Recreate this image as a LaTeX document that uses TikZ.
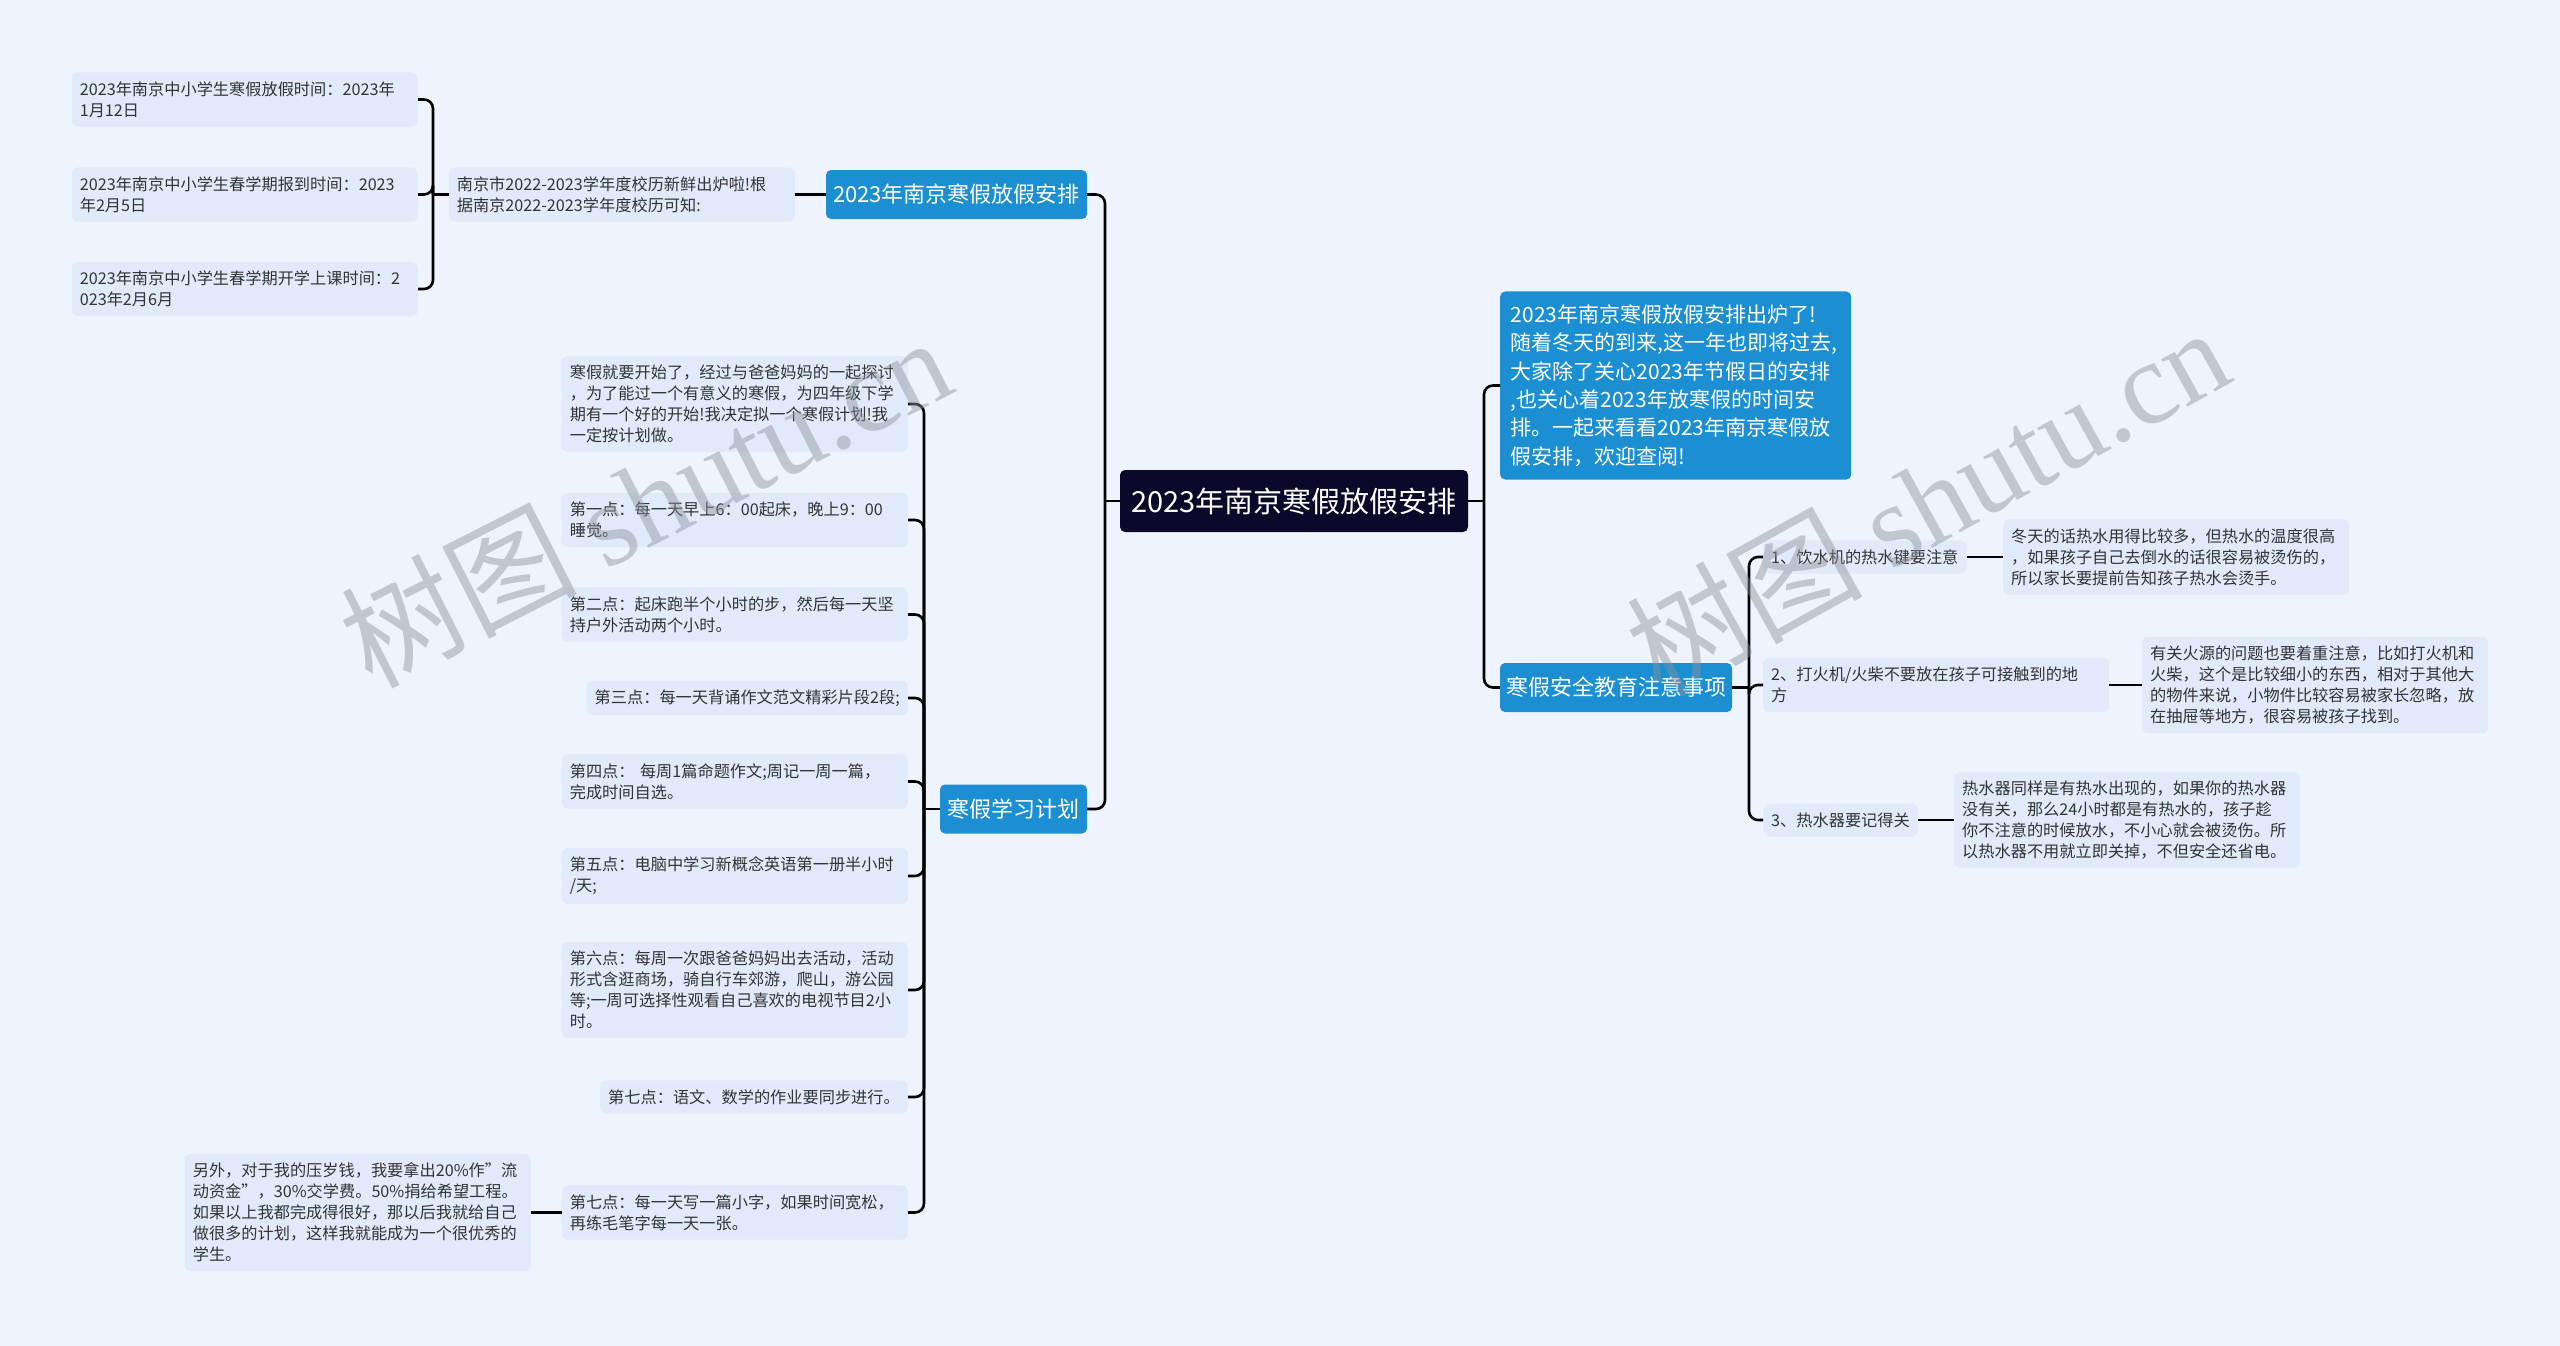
\documentclass[tikz,border=0pt]{standalone}
\usepackage{fontspec}
\setmainfont{Noto Sans CJK SC}
\newfontfamily\wmserif{Liberation Serif}
\definecolor{bgcol}{HTML}{EEF3FD}
\definecolor{leafcol}{HTML}{E1EAFB}
\definecolor{bluecol}{HTML}{1B8FD2}
\definecolor{rootcol}{HTML}{0B0829}
\definecolor{txtcol}{HTML}{333333}
\definecolor{wmcol}{HTML}{8E9099}

\begin{document}
\begin{tikzpicture}[x=1pt,y=-1pt,
	root/.style={fill=rootcol,text=white,rounded corners=5pt,font=\fontsize{29pt}{35pt}\selectfont,minimum width=348pt,minimum height=62pt,inner sep=0pt},
	branch/.style={fill=bluecol,text=white,rounded corners=5pt,font=\fontsize{22pt}{26pt}\selectfont,minimum height=49pt,inner sep=0pt},
	note/.style={fill=leafcol,text=txtcol,rounded corners=6pt,font=\fontsize{16.2pt}{21pt}\selectfont,inner xsep=8pt,inner ysep=9pt},
	para/.style={note,text width=330pt,align=left},
	link/.style={line width=2.6pt,draw=black,rounded corners=9pt},
	wm/.style={text=wmcol,opacity=0.45,font=\fontsize{118pt}{118pt}\selectfont}]
	\fill[bgcol] (0,0) rectangle (2560,1346);

	\node[root] (center) at (1294,501) {2023年南京寒假放假安排};
	\node[branch,minimum width=261pt] (plan) at (956.5,194.5) {2023年南京寒假放假安排};
	\node[branch,minimum width=147pt] (study) at (1013.5,809) {寒假学习计划};
	\node[branch,minimum width=232pt] (safety) at (1616,687.5) {寒假安全教育注意事项};
	\node[fill=bluecol,text=white,rounded corners=5pt,font=\fontsize{21pt}{28.4pt}\selectfont,text width=330pt,align=left,inner xsep=10.5pt,inner ysep=13pt,anchor=west] (intro) at (1500,385.5)
		{2023年南京寒假放假安排出炉了!\\随着冬天的到来,这一年也即将过去,\\大家除了关心2023年节假日的安排\\,也关心着2023年放寒假的时间安\\排。一起来看看2023年南京寒假放\\假安排，欢迎查阅!};

	\begin{scope}[every node/.style={anchor=east}]
	\node[para] (calendar) at (795,194.5) {南京市2022-2023学年度校历新鲜出炉啦!根\\据南京2022-2023学年度校历可知:};
	\node[para] (g1) at (418,99.5) {2023年南京中小学生寒假放假时间：2023年\\1月12日};
	\node[para] (g2) at (418,194.5) {2023年南京中小学生春学期报到时间：2023\\年2月5日};
	\node[para] (g3) at (418,289) {2023年南京中小学生春学期开学上课时间：2\\023年2月6月};
	\node[para] (s0) at (908,404) {寒假就要开始了，经过与爸爸妈妈的一起探讨\\，为了能过一个有意义的寒假，为四年级下学\\期有一个好的开始!我决定拟一个寒假计划!我\\一定按计划做。};
	\node[para] (s1) at (908,520) {第一点：每一天早上6：00起床，晚上9：00\\睡觉。};
	\node[para] (s2) at (908,614.5) {第二点：起床跑半个小时的步，然后每一天坚\\持户外活动两个小时。};
	\node[note] (s3) at (908,698) {第三点：每一天背诵作文范文精彩片段2段;};
	\node[para] (s4) at (908,781.5) {第四点： 每周1篇命题作文;周记一周一篇，\\完成时间自选。};
	\node[para] (s5) at (908,876) {第五点：电脑中学习新概念英语第一册半小时\\/天;};
	\node[para] (s6) at (908,990) {第六点：每周一次跟爸爸妈妈出去活动，活动\\形式含逛商场，骑自行车郊游，爬山，游公园\\等;一周可选择性观看自己喜欢的电视节目2小\\时。};
	\node[note] (s7) at (908,1097) {第七点：语文、数学的作业要同步进行。};
	\node[para] (s8) at (908,1212.5) {第七点：每一天写一篇小字，如果时间宽松，\\再练毛笔字每一天一张。};
	\node[para] (extra) at (531,1212.5) {另外，对于我的压岁钱，我要拿出20\%作"流\\动资金"，30\%交学费。50\%捐给希望工程。\\如果以上我都完成得很好，那以后我就给自己\\做很多的计划，这样我就能成为一个很优秀的\\学生。};
	\end{scope}

	\begin{scope}[every node/.style={anchor=west}]
	\node[note] (r1) at (1763,557) {1、饮水机的热水键要注意};
	\node[para] (r1c) at (2003,557) {冬天的话热水用得比较多，但热水的温度很高\\，如果孩子自己去倒水的话很容易被烫伤的，\\所以家长要提前告知孩子热水会烫手。};
	\node[para] (r2) at (1763,685) {2、打火机/火柴不要放在孩子可接触到的地\\方};
	\node[para] (r2c) at (2142,685) {有关火源的问题也要着重注意，比如打火机和\\火柴，这个是比较细小的东西，相对于其他大\\的物件来说，小物件比较容易被家长忽略，放\\在抽屉等地方，很容易被孩子找到。};
	\node[note] (r3) at (1763,820) {3、热水器要记得关};
	\node[para] (r3c) at (1954,820) {热水器同样是有热水出现的，如果你的热水器\\没有关，那么24小时都是有热水的，孩子趁\\你不注意的时候放水，不小心就会被烫伤。所\\以热水器不用就立即关掉，不但安全还省电。};
	\end{scope}

	\coordinate (cl) at (1105,501);
	\coordinate (cr) at (1484,501);
	\coordinate (pl) at (433,194.5);
	\coordinate (sl) at (924,809);
	\coordinate (tr) at (1749,687.5);

	\draw[link] (center.west) -- (cl);
	\draw[link] (cl) |- (plan.east);
	\draw[link] (cl) |- (study.east);
	\draw[link] (center.east) -- (cr);
	\draw[link] (cr) |- (intro.west);
	\draw[link] (cr) |- (safety.west);
	\draw[link] (plan.west) -- (calendar.east);
	\draw[link] (calendar.west) -- (pl);
	\foreach \n in {g1,g2,g3}
		\draw[link] (pl) |- (\n.east);
	\draw[link] (study.west) -- (sl);
	\foreach \n in {s0,s1,s2,s3,s4,s5,s6,s7,s8}
		\draw[link] (sl) |- (\n.east);
	\draw[link] (s8.west) -- (extra.east);
	\draw[link] (safety.east) -- (tr);
	\foreach \n in {r1,r2,r3}
		\draw[link] (tr) |- (\n.west);
	\draw[link] (r1.east) -- (r1c.west);
	\draw[link] (r2.east) -- (r2c.west);
	\draw[link] (r3.east) -- (r3c.west);

	\node[wm,rotate=27] (wmleft) at (645,500) {树图 {\wmserif shutu.cn}};
	\node[wm,rotate=29] (wmright) at (1927,500) {树图 {\wmserif shutu.cn}};
\end{tikzpicture}
\end{document}
